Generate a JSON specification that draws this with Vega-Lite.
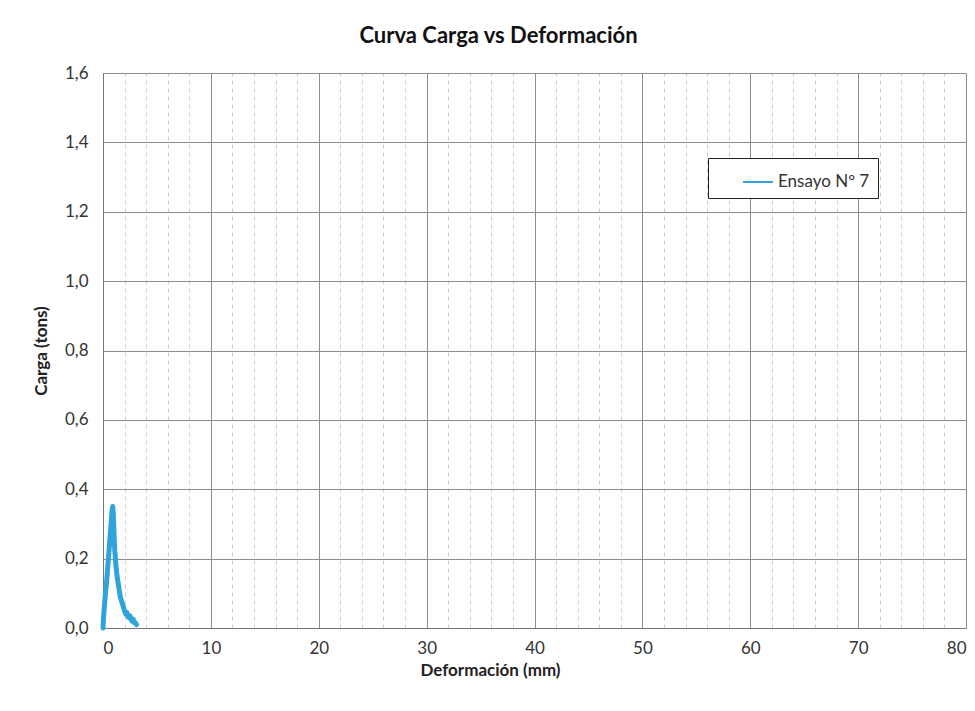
{
  "$schema": "https://vega.github.io/schema/vega-lite/v6.json",
  "width": 863,
  "height": 555,
  "autosize": {"type": "none"},
  "padding": {"left": 103, "top": 73, "right": 9, "bottom": 83},
  "background": "white",
  "title": {
    "text": "Curva Carga vs Deformación",
    "font": "Lato",
    "fontSize": 22,
    "fontWeight": "bold",
    "color": "#111111",
    "anchor": "middle",
    "dx": -36,
    "offset": 16
  },
  "data": {
    "values": [
      {"def": 0, "carga": 0, "serie": "Ensayo Nº 7"},
      {"def": 0.05, "carga": 0.03, "serie": "Ensayo Nº 7"},
      {"def": 0.1, "carga": 0.05, "serie": "Ensayo Nº 7"},
      {"def": 0.15, "carga": 0.07, "serie": "Ensayo Nº 7"},
      {"def": 0.2, "carga": 0.09, "serie": "Ensayo Nº 7"},
      {"def": 0.25, "carga": 0.11, "serie": "Ensayo Nº 7"},
      {"def": 0.3, "carga": 0.12, "serie": "Ensayo Nº 7"},
      {"def": 0.35, "carga": 0.14, "serie": "Ensayo Nº 7"},
      {"def": 0.4, "carga": 0.16, "serie": "Ensayo Nº 7"},
      {"def": 0.45, "carga": 0.18, "serie": "Ensayo Nº 7"},
      {"def": 0.5, "carga": 0.2, "serie": "Ensayo Nº 7"},
      {"def": 0.55, "carga": 0.22, "serie": "Ensayo Nº 7"},
      {"def": 0.6, "carga": 0.24, "serie": "Ensayo Nº 7"},
      {"def": 0.65, "carga": 0.26, "serie": "Ensayo Nº 7"},
      {"def": 0.7, "carga": 0.28, "serie": "Ensayo Nº 7"},
      {"def": 0.75, "carga": 0.3, "serie": "Ensayo Nº 7"},
      {"def": 0.8, "carga": 0.32, "serie": "Ensayo Nº 7"},
      {"def": 0.85, "carga": 0.34, "serie": "Ensayo Nº 7"},
      {"def": 0.9, "carga": 0.35, "serie": "Ensayo Nº 7"},
      {"def": 0.95, "carga": 0.33, "serie": "Ensayo Nº 7"},
      {"def": 1.0, "carga": 0.29, "serie": "Ensayo Nº 7"},
      {"def": 1.05, "carga": 0.25, "serie": "Ensayo Nº 7"},
      {"def": 1.1, "carga": 0.22, "serie": "Ensayo Nº 7"},
      {"def": 1.2, "carga": 0.18, "serie": "Ensayo Nº 7"},
      {"def": 1.3, "carga": 0.15, "serie": "Ensayo Nº 7"},
      {"def": 1.4, "carga": 0.13, "serie": "Ensayo Nº 7"},
      {"def": 1.5, "carga": 0.11, "serie": "Ensayo Nº 7"},
      {"def": 1.6, "carga": 0.09, "serie": "Ensayo Nº 7"},
      {"def": 1.7, "carga": 0.08, "serie": "Ensayo Nº 7"},
      {"def": 1.8, "carga": 0.07, "serie": "Ensayo Nº 7"},
      {"def": 1.9, "carga": 0.06, "serie": "Ensayo Nº 7"},
      {"def": 2.0, "carga": 0.05, "serie": "Ensayo Nº 7"},
      {"def": 2.1, "carga": 0.04, "serie": "Ensayo Nº 7"},
      {"def": 2.2, "carga": 0.045, "serie": "Ensayo Nº 7"},
      {"def": 2.3, "carga": 0.035, "serie": "Ensayo Nº 7"},
      {"def": 2.4, "carga": 0.03, "serie": "Ensayo Nº 7"},
      {"def": 2.5, "carga": 0.035, "serie": "Ensayo Nº 7"},
      {"def": 2.6, "carga": 0.025, "serie": "Ensayo Nº 7"},
      {"def": 2.7, "carga": 0.02, "serie": "Ensayo Nº 7"},
      {"def": 2.8, "carga": 0.025, "serie": "Ensayo Nº 7"},
      {"def": 2.9, "carga": 0.015, "serie": "Ensayo Nº 7"},
      {"def": 3.0, "carga": 0.015, "serie": "Ensayo Nº 7"},
      {"def": 3.1, "carga": 0.01, "serie": "Ensayo Nº 7"}
    ]
  },
  "encoding": {
    "y": {
      "field": "carga",
      "type": "quantitative",
      "scale": {"domain": [0, 1.6], "nice": false},
      "axis": {
        "values": [0,0.2,0.4,0.6,0.8,1.0,1.2,1.4,1.6],
        "labelExpr": "replace(format(datum.value, '.1f'), '.', ',')",
        "grid": true,
        "gridColor": "#8c8c8c",
        "gridWidth": 1,
        "domain": true,
        "domainColor": "#777777",
        "ticks": false,
        "labelFont": "Lato",
        "labelFontSize": 17,
        "labelColor": "#333333",
        "labelPadding": 15,
        "title": "Carga (tons)",
        "titleFont": "Lato",
        "titleFontSize": 17,
        "titleFontWeight": "bold",
        "titleColor": "#222222",
        "titlePadding": 14
      }
    }
  },
  "layer": [
    {
      "mark": {"type": "line", "opacity": 0},
      "encoding": {
        "x": {
          "field": "def",
          "type": "quantitative",
          "scale": {"domain": [0, 80], "nice": false, "zero": true},
          "axis": {
            "orient": "top",
            "values": [2,4,6,8,12,14,16,18,22,24,26,28,32,34,36,38,42,44,46,48,52,54,56,58,62,64,66,68,72,74,76,78],
            "grid": true,
            "gridDash": [4, 4],
            "gridColor": "#cccccc",
            "gridWidth": 1,
            "labels": false,
            "ticks": false,
            "domain": false,
            "title": null
          }
        }
      }
    },
    {
      "mark": {"type": "line", "strokeWidth": 5, "strokeJoin": "round", "strokeCap": "round"},
      "encoding": {
        "x": {
          "field": "def",
          "type": "quantitative",
          "axis": {
            "orient": "bottom",
            "values": [0,10,20,30,40,50,60,70,80],
            "grid": true,
            "gridColor": "#8c8c8c",
            "gridWidth": 1,
            "domain": true,
            "domainColor": "#777777",
            "ticks": false,
            "labelFont": "Lato",
            "labelFontSize": 17,
            "labelColor": "#333333",
            "labelPadding": 12,
            "title": "Deformación (mm)",
            "titleFont": "Lato",
            "titleFontSize": 17,
            "titleFontWeight": "bold",
            "titleColor": "#222222",
            "titlePadding": 6,
            "titleX": 387
          }
        },
        "color": {
          "field": "serie",
          "type": "nominal",
          "scale": {"range": ["#2ea3dc"]},
          "legend": {
            "title": null,
            "orient": "none",
            "legendX": 605,
            "legendY": 85,
            "direction": "vertical",
            "fillColor": "white",
            "strokeColor": "#222222",
            "padding": 8,
            "symbolType": "stroke",
            "symbolSize": 900,
            "symbolStrokeWidth": 2,
            "symbolOffset": 26,
            "labelOffset": 4,
            "labelFont": "Lato",
            "labelFontSize": 17,
            "labelColor": "#333333",
            "labelLimit": 200
          }
        }
      }
    }
  ],
  "resolve": {"axis": {"x": "independent"}},
  "config": {
    "view": {"stroke": null}
  }
}
